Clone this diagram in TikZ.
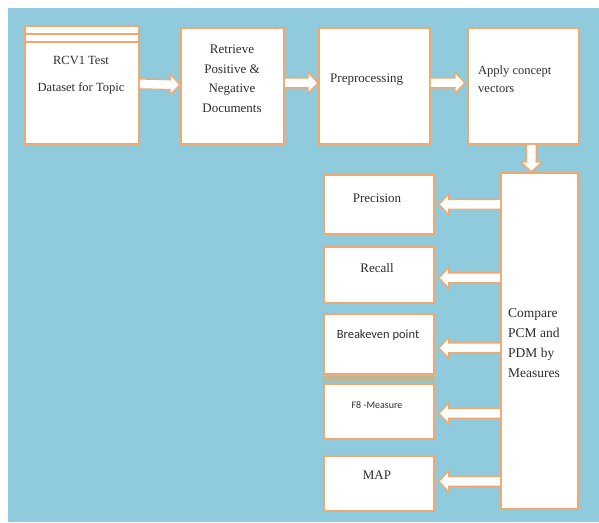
\documentclass[tikz,border=0pt]{standalone}
\usepackage{fontspec}
\setmainfont{Liberation Serif}
\newfontfamily\calib{Carlito}
\usetikzlibrary{calc}
\definecolor{bgblue}{RGB}{143,203,221}
\definecolor{boxorange}{RGB}{240,168,110}
\definecolor{bandtan}{RGB}{188,184,150}
\definecolor{txtgray}{RGB}{45,45,45}
\tikzset{
  box/.style={draw=boxorange, line width=1.8pt, fill=white, anchor=north west, inner sep=0pt},
  txt/.style={font=\fontsize{13}{19.5}\selectfont, text=txtgray, inner sep=0pt},
  blockarr/.style={draw=boxorange, line width=1.4pt, fill=white, line join=miter},
}
\newcommand\blockarrow[2]{%
  \coordinate (ba-s) at (#1);
  \coordinate (ba-e) at (#2);
  \coordinate (ba-b) at ($(ba-e)!10pt!(ba-s)$);
  \draw[blockarr] ($(ba-s)!5pt!90:(ba-e)$) -- ($(ba-b)!5pt!-90:(ba-s)$)
    -- ($(ba-b)!10.5pt!-90:(ba-s)$) -- (ba-e) -- ($(ba-b)!10.5pt!90:(ba-s)$)
    -- ($(ba-b)!5pt!90:(ba-s)$) -- ($(ba-s)!5pt!-90:(ba-e)$);
}
\begin{document}
\begin{tikzpicture}[x=1pt,y=-1pt]
\useasboundingbox (0,0) rectangle (599,522);
\fill[white] (0,0) rectangle (599,522);
\fill[bgblue] (8,8) rectangle (599,522);

% boxes
\node[box, minimum width=114, minimum height=118] (rcv) at (24,25) {};
\node[box, minimum width=103, minimum height=116] (ret) at (180,27) {};
\node[box, minimum width=111, minimum height=116] (pre) at (318,27) {};
\node[box, minimum width=111, minimum height=116] (app) at (467,27) {};
\node[box, minimum width=77, minimum height=336] (cmp) at (500,172) {};
\node[box, minimum width=110, minimum height=59] (prec) at (323,174) {};
\node[box, minimum width=110, minimum height=56] (rec) at (323,246) {};
\node[box, minimum width=110, minimum height=60] (brk) at (323,313) {};
\node[box, minimum width=110, minimum height=55] (fm) at (323,383) {};
\node[box, minimum width=110, minimum height=55] (map) at (323,455) {};

% tan band between breakeven and F-measure boxes
\fill[bandtan] ($(brk.south west)+(0,1)$) rectangle ($(fm.north east)+(0,-1)$);

% double rule at top of the dataset box
\draw[boxorange, line width=1.8pt] ($(rcv.north west)+(0,9)$) -- ($(rcv.north east)+(0,9)$);
\draw[boxorange, line width=1.8pt] ($(rcv.north west)+(0,17)$) -- ($(rcv.north east)+(0,17)$);

% texts
\node[txt, font=\fontsize{12.5}{19}\selectfont] (t-rcv1) at (81,60) {RCV1 Test};
\node[txt, font=\fontsize{12.5}{19}\selectfont] (t-rcv2) at (81,88) {Dataset for Topic};
\node[txt, align=center] (t-ret) at (232,79) {Retrieve\\Positive \&\\Negative\\Documents};
\node[txt, anchor=west] (t-pre) at (330,80) {Preprocessing};
\node[txt, anchor=west, align=left, font=\fontsize{12.5}{18}\selectfont] (t-app) at (478,79) {Apply concept\\vectors};
\node[txt, anchor=west, align=left, font=\fontsize{13.5}{20}\selectfont] (t-cmp) at (508,343) {Compare\\PCM and\\PDM by\\Measures};
\node[txt] (t-prec) at (377,198) {Precision};
\node[txt] (t-rec) at (377,268) {Recall};
\node[txt, font=\calib\fontsize{12.5}{15}\selectfont] (t-brk) at (378,335) {Breakeven point};
\node[txt, font=\calib\fontsize{10}{12}\selectfont] (t-fm) at (377,405) {F8 -Measure};
\node[txt] (t-map) at (377,475) {MAP};

% arrows
\coordinate (dn) at ($(app.south)+(8,0)$);
\blockarrow{$(rcv.east)+(0,-1)$}{$(ret.west)+(0,-1)$}
\blockarrow{$(ret.east)+(0,-3)$}{$(pre.west)+(0,-3)$}
\blockarrow{$(pre.east)+(0,-3)$}{$(app.west)+(-2,-3)$}
\blockarrow{dn}{dn |- cmp.north}
\blockarrow{prec.east -| cmp.west}{$(prec.east)+(4,0)$}
\blockarrow{$(rec.east -| cmp.west)+(0,3)$}{$(rec.east)+(4,3)$}
\blockarrow{$(brk.east -| cmp.west)+(0,4)$}{$(brk.east)+(4,4)$}
\blockarrow{$(fm.east -| cmp.west)+(0,2)$}{$(fm.east)+(4,2)$}
\blockarrow{$(map.east -| cmp.west)+(0,-2)$}{$(map.east)+(4,-2)$}
\end{tikzpicture}
\end{document}
